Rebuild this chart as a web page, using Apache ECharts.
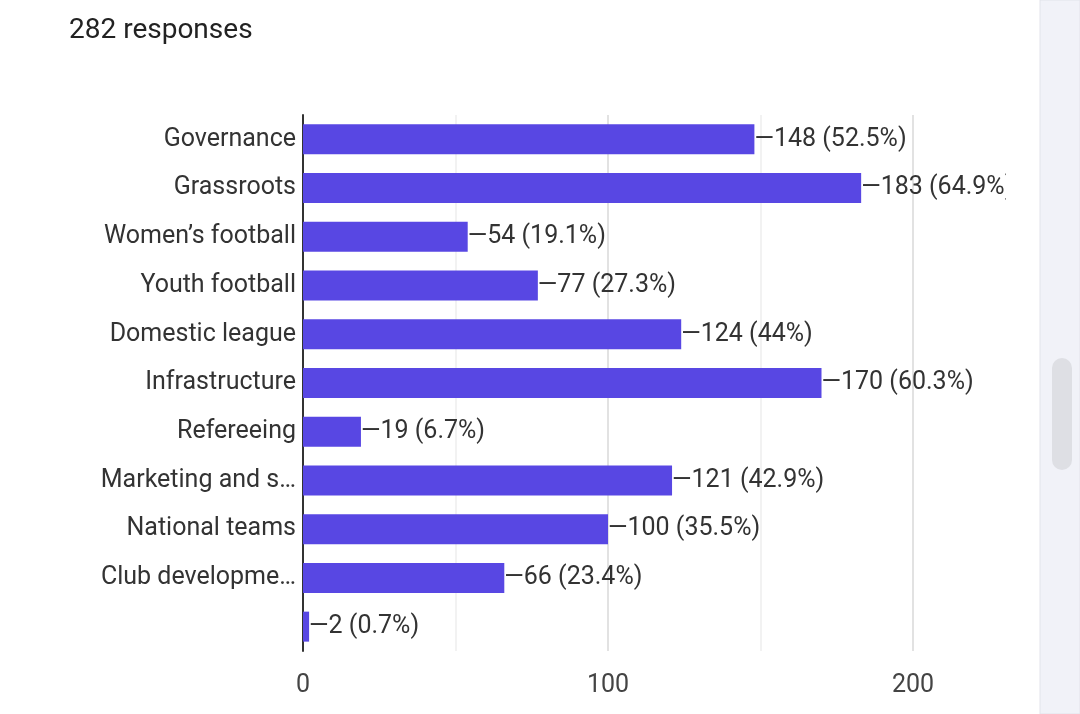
<!DOCTYPE html>
<html><head><meta charset="utf-8">
<script src="https://cdn.jsdelivr.net/npm/echarts@6/dist/echarts.min.js"></script>
<style>html,body{margin:0;padding:0;background:#fff}#c{width:1080px;height:714px}</style>
</head><body><div id="c"></div>
<script>
const categories = ["Governance","Grassroots","Women’s football","Youth football","Domestic league","Infrastructure","Refereeing","Marketing and s…","National teams","Club developme…",""];
const values = [148,183,54,77,124,170,19,121,100,66,2];
const percents = ["52.5%","64.9%","19.1%","27.3%","44%","60.3%","6.7%","42.9%","35.5%","23.4%","0.7%"];
const xTicks = [0,100,200];
const chart = echarts.init(document.getElementById('c'));
chart.setOption({
  animation:false,
  title:{text:"282 responses",left:64,top:12,textStyle:{fontFamily:"Roboto",fontSize:28,fontWeight:"normal",color:"#222"}},
  grid:{left:303,right:167,top:115,bottom:63},
  xAxis:{type:"value",min:0,max:200,interval:100,
    axisLine:{show:false},axisTick:{show:false},
    axisLabel:{fontFamily:"Roboto",fontSize:25,color:"#444",margin:22,formatter:v=>xTicks.includes(v)?String(v):""},
    splitLine:{lineStyle:{color:"#d8d8d8",width:1.5}},
    minorTick:{show:false,splitNumber:2},
    minorSplitLine:{show:true,lineStyle:{color:"#eeeeee",width:1.5}}},
  yAxis:{type:"category",inverse:true,data:categories,
    axisLine:{show:true,lineStyle:{color:"#333",width:2}},axisTick:{show:false},
    axisLabel:{fontFamily:"Roboto",fontSize:25,color:"#333",margin:7}},
  series:[{type:"bar",data:values,barWidth:30,itemStyle:{color:"#5847e3"},
    label:{show:true,position:"right",distance:0,fontFamily:"Roboto",fontSize:25,color:"#333",
      formatter:p=>"—"+p.value+" ("+percents[p.dataIndex]+")"}}],
  graphic:[
    {type:"rect",z:100,shape:{x:1006,y:0,width:34,height:714},style:{fill:"#fff"}},
    {type:"rect",z:101,shape:{x:1040,y:0,width:40,height:714},style:{fill:"#f1f2f8",stroke:"#e2e3ea",lineWidth:1}},
    {type:"rect",z:102,shape:{x:1052,y:358,width:20,height:112,r:10},style:{fill:"#dedfe4"}}
  ]
});
</script></body></html>
